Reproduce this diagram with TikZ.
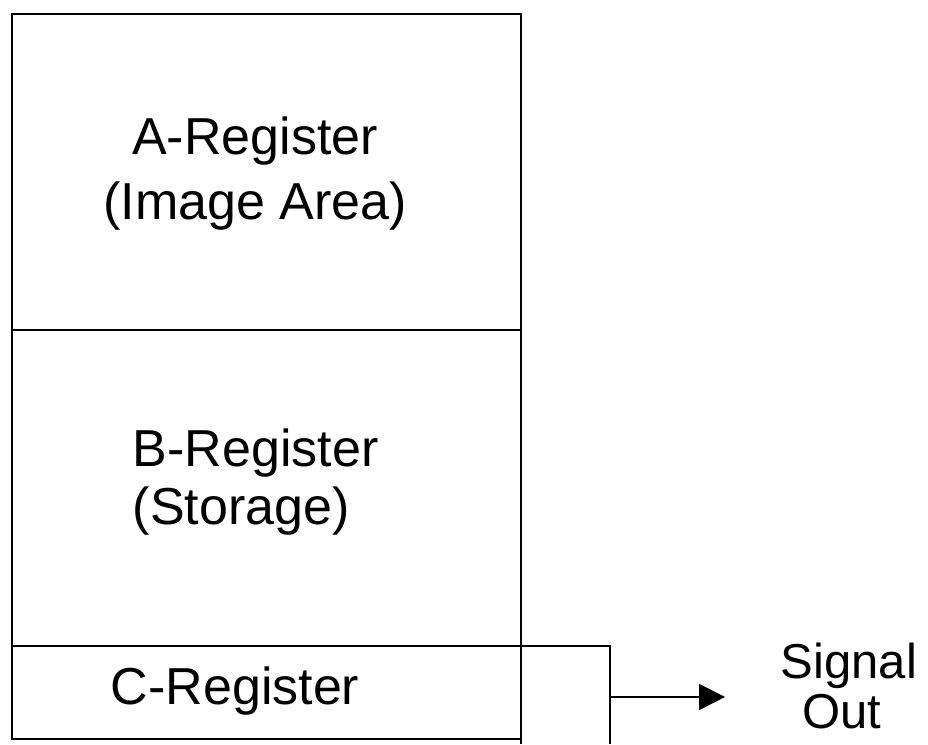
\documentclass[tikz,border=0pt]{standalone}
\usepackage{fontspec}
\setmainfont{Liberation Sans}
\usetikzlibrary{arrows.meta, calc}
\tikzset{
	regbox/.style={draw, rectangle, inner sep=0pt, outer sep=0pt, minimum width=509pt, anchor=north west},
	regtext/.style={font=\fontsize{52}{60}\selectfont, inner sep=0pt},
	outtext/.style={font=\fontsize{49}{56}\selectfont, inner sep=0pt}
}
\begin{document}
\begin{tikzpicture}[x=1pt, y=-1pt, line width=1.6pt, >={Triangle[length=26pt, width=26pt]}]
	\useasboundingbox (0,0) rectangle (928,744);
	% register stack
	\foreach \name / \top / \bot in {areg/14/330, breg/330/646, creg/646/739} {
		\node[regbox, minimum height={\bot-\top}] (\name) at (12,\top) {};
	}
	% output stage beside the C-register
	\draw (creg.north east) -- ++(89,0) coordinate (cextne) -- ++(0,98) coordinate (cextse);
	\draw (creg.south east) -- ++(0,5);
	\coordinate (cport) at ($(cextne)!0.52!(cextse)$);
	\coordinate (sigtip) at ($(cport)+(115,0)$);
	\draw[->] (cport) -- (sigtip);
	% labels
	\node[regtext, anchor=base] (atitle) at (255,154) {A-Register};
	\node[regtext, anchor=base] (asub) at (255,219) {(Image Area)};
	\node[regtext, anchor=base west] (btitle) at (132,466) {B-Register};
	\node[regtext, anchor=base west] (bsub) at (132,524) {(Storage)};
	\node[regtext, anchor=base west] (ctitle) at (110,704) {C-Register};
	\node[outtext, anchor=base west] (sigline) at (780,678) {Signal};
	\node[outtext, anchor=base] (outline) at (842,728) {Out};
\end{tikzpicture}
\end{document}
